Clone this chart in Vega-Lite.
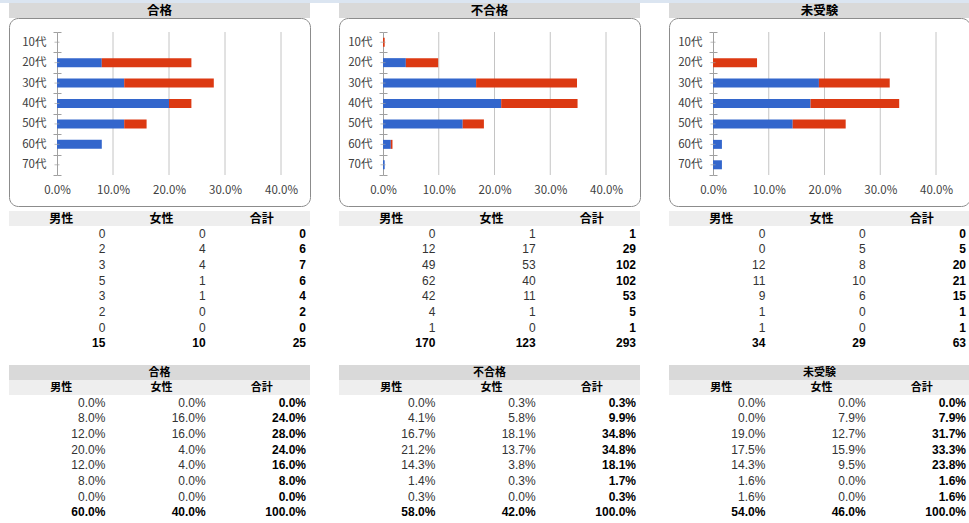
{
"$schema": "https://vega.github.io/schema/vega-lite/v6.json",
"padding": 0,
"background": "white",
"config": {"font": "Noto Sans CJK JP", "view": {"stroke": null}},
"datasets": {"t": [
{"g":"合格","a":"10代","s":"男性","n":0,"p":0},{"g":"合格","a":"10代","s":"女性","n":0,"p":0},{"g":"合格","a":"10代","s":"合計","n":0,"p":0},
{"g":"合格","a":"20代","s":"男性","n":2,"p":0.08},{"g":"合格","a":"20代","s":"女性","n":4,"p":0.16},{"g":"合格","a":"20代","s":"合計","n":6,"p":0.24},
{"g":"合格","a":"30代","s":"男性","n":3,"p":0.12},{"g":"合格","a":"30代","s":"女性","n":4,"p":0.16},{"g":"合格","a":"30代","s":"合計","n":7,"p":0.28},
{"g":"合格","a":"40代","s":"男性","n":5,"p":0.2},{"g":"合格","a":"40代","s":"女性","n":1,"p":0.04},{"g":"合格","a":"40代","s":"合計","n":6,"p":0.24},
{"g":"合格","a":"50代","s":"男性","n":3,"p":0.12},{"g":"合格","a":"50代","s":"女性","n":1,"p":0.04},{"g":"合格","a":"50代","s":"合計","n":4,"p":0.16},
{"g":"合格","a":"60代","s":"男性","n":2,"p":0.08},{"g":"合格","a":"60代","s":"女性","n":0,"p":0},{"g":"合格","a":"60代","s":"合計","n":2,"p":0.08},
{"g":"合格","a":"70代","s":"男性","n":0,"p":0},{"g":"合格","a":"70代","s":"女性","n":0,"p":0},{"g":"合格","a":"70代","s":"合計","n":0,"p":0},
{"g":"合格","a":"合計","s":"男性","n":15,"p":0.6},{"g":"合格","a":"合計","s":"女性","n":10,"p":0.4},{"g":"合格","a":"合計","s":"合計","n":25,"p":1},
{"g":"不合格","a":"10代","s":"男性","n":0,"p":0},{"g":"不合格","a":"10代","s":"女性","n":1,"p":0.003},{"g":"不合格","a":"10代","s":"合計","n":1,"p":0.003},
{"g":"不合格","a":"20代","s":"男性","n":12,"p":0.041},{"g":"不合格","a":"20代","s":"女性","n":17,"p":0.058},{"g":"不合格","a":"20代","s":"合計","n":29,"p":0.099},
{"g":"不合格","a":"30代","s":"男性","n":49,"p":0.167},{"g":"不合格","a":"30代","s":"女性","n":53,"p":0.181},{"g":"不合格","a":"30代","s":"合計","n":102,"p":0.348},
{"g":"不合格","a":"40代","s":"男性","n":62,"p":0.212},{"g":"不合格","a":"40代","s":"女性","n":40,"p":0.137},{"g":"不合格","a":"40代","s":"合計","n":102,"p":0.348},
{"g":"不合格","a":"50代","s":"男性","n":42,"p":0.143},{"g":"不合格","a":"50代","s":"女性","n":11,"p":0.038},{"g":"不合格","a":"50代","s":"合計","n":53,"p":0.181},
{"g":"不合格","a":"60代","s":"男性","n":4,"p":0.014},{"g":"不合格","a":"60代","s":"女性","n":1,"p":0.003},{"g":"不合格","a":"60代","s":"合計","n":5,"p":0.017},
{"g":"不合格","a":"70代","s":"男性","n":1,"p":0.003},{"g":"不合格","a":"70代","s":"女性","n":0,"p":0},{"g":"不合格","a":"70代","s":"合計","n":1,"p":0.003},
{"g":"不合格","a":"合計","s":"男性","n":170,"p":0.58},{"g":"不合格","a":"合計","s":"女性","n":123,"p":0.42},{"g":"不合格","a":"合計","s":"合計","n":293,"p":1},
{"g":"未受験","a":"10代","s":"男性","n":0,"p":0},{"g":"未受験","a":"10代","s":"女性","n":0,"p":0},{"g":"未受験","a":"10代","s":"合計","n":0,"p":0},
{"g":"未受験","a":"20代","s":"男性","n":0,"p":0},{"g":"未受験","a":"20代","s":"女性","n":5,"p":0.079},{"g":"未受験","a":"20代","s":"合計","n":5,"p":0.079},
{"g":"未受験","a":"30代","s":"男性","n":12,"p":0.19},{"g":"未受験","a":"30代","s":"女性","n":8,"p":0.127},{"g":"未受験","a":"30代","s":"合計","n":20,"p":0.317},
{"g":"未受験","a":"40代","s":"男性","n":11,"p":0.175},{"g":"未受験","a":"40代","s":"女性","n":10,"p":0.159},{"g":"未受験","a":"40代","s":"合計","n":21,"p":0.333},
{"g":"未受験","a":"50代","s":"男性","n":9,"p":0.143},{"g":"未受験","a":"50代","s":"女性","n":6,"p":0.095},{"g":"未受験","a":"50代","s":"合計","n":15,"p":0.238},
{"g":"未受験","a":"60代","s":"男性","n":1,"p":0.016},{"g":"未受験","a":"60代","s":"女性","n":0,"p":0},{"g":"未受験","a":"60代","s":"合計","n":1,"p":0.016},
{"g":"未受験","a":"70代","s":"男性","n":1,"p":0.016},{"g":"未受験","a":"70代","s":"女性","n":0,"p":0},{"g":"未受験","a":"70代","s":"合計","n":1,"p":0.016},
{"g":"未受験","a":"合計","s":"男性","n":34,"p":0.54},{"g":"未受験","a":"合計","s":"女性","n":29,"p":0.46},{"g":"未受験","a":"合計","s":"合計","n":63,"p":1}
]},
"columns": 6,
"spacing": 0,
"align": "each",
"bounds": "flush",
"concat": [
{"width": 9, "height": 3, "view": {"fill": "#dbe5f1", "stroke": null}, "data": {"values": []}, "mark": "rect", "encoding": {}},
{"width": 301, "height": 3, "view": {"fill": "#dbe5f1", "stroke": null}, "data": {"values": []}, "mark": "rect", "encoding": {}},
{"width": 29, "height": 3, "view": {"fill": "#dbe5f1", "stroke": null}, "data": {"values": []}, "mark": "rect", "encoding": {}},
{"width": 301, "height": 3, "view": {"fill": "#dbe5f1", "stroke": null}, "data": {"values": []}, "mark": "rect", "encoding": {}},
{"width": 29, "height": 3, "view": {"fill": "#dbe5f1", "stroke": null}, "data": {"values": []}, "mark": "rect", "encoding": {}},
{"width": 301, "height": 3, "view": {"fill": "#dbe5f1", "stroke": null}, "data": {"values": []}, "mark": "rect", "encoding": {}},

{"width": 1, "height": 1, "data": {"values": []}, "mark": "rect", "encoding": {}},
{"width": 301, "height": 15, "view": {"fill": "#d9d9d9", "stroke": null}, "data": {"name": "t"},
 "transform": [{"filter": "datum.g === '合格' && datum.a === '合計' && datum.s === '合計'"}],
 "mark": {"type": "text", "fontWeight": "bold", "fontSize": 12.5, "color": "#000", "baseline": "middle", "align": "center"},
 "encoding": {"text": {"field": "g"}}},
{"width": 1, "height": 1, "data": {"values": []}, "mark": "rect", "encoding": {}},
{"width": 301, "height": 15, "view": {"fill": "#d9d9d9", "stroke": null}, "data": {"name": "t"},
 "transform": [{"filter": "datum.g === '不合格' && datum.a === '合計' && datum.s === '合計'"}],
 "mark": {"type": "text", "fontWeight": "bold", "fontSize": 12.5, "color": "#000", "baseline": "middle", "align": "center"},
 "encoding": {"text": {"field": "g"}}},
{"width": 1, "height": 1, "data": {"values": []}, "mark": "rect", "encoding": {}},
{"width": 301, "height": 15, "view": {"fill": "#d9d9d9", "stroke": null}, "data": {"name": "t"},
 "transform": [{"filter": "datum.g === '未受験' && datum.a === '合計' && datum.s === '合計'"}],
 "mark": {"type": "text", "fontWeight": "bold", "fontSize": 12.5, "color": "#000", "baseline": "middle", "align": "center"},
 "encoding": {"text": {"field": "g"}}},

{"width": 1, "height": 1, "data": {"values": []}, "mark": "rect", "encoding": {}},
{"width": 301, "height": 188, "view": {"stroke": "#8c8c8c", "cornerRadius": 9, "fill": "white"},
 "layer": [
  {"data": {"values": [{"v": 0.1}, {"v": 0.2}, {"v": 0.3}, {"v": 0.4}]},
   "mark": {"type": "rule", "color": "#c4c4c4", "strokeWidth": 1},
   "encoding": {"x": {"field": "v", "type": "quantitative", "scale": {"domain": [0, 0.4], "range": [48, 272], "nice": false, "zero": false},
     "axis": {"orient": "bottom", "offset": -16, "values": [0, 0.1, 0.2, 0.3, 0.4], "format": ".1%", "grid": false, "domain": false, "ticks": false, "tickSize": 0, "labelPadding": 0, "labelBaseline": "middle", "labelFlush": false, "labelOverlap": false, "labelFontSize": 11.5, "labelColor": "#404040", "title": null}},
    "y": {"datum": 0, "type": "quantitative", "scale": {"domain": [0, 1], "range": [14, 157]}, "axis": null},
    "y2": {"datum": 1}}},
  {"data": {"name": "t"}, "transform": [{"filter": "datum.g === '合格' && datum.a !== '合計' && datum.s !== '合計'"}],
   "mark": {"type": "bar", "size": 9},
   "encoding": {
    "x": {"field": "p", "type": "quantitative", "stack": "zero", "scale": {"domain": [0, 0.4], "range": [48, 272], "nice": false, "zero": false},
     "axis": {"orient": "bottom", "offset": -16, "values": [0, 0.1, 0.2, 0.3, 0.4], "format": ".1%", "grid": false, "domain": false, "ticks": false, "tickSize": 0, "labelPadding": 0, "labelBaseline": "middle", "labelFlush": false, "labelOverlap": false, "labelFontSize": 11.5, "labelColor": "#404040", "title": null}},
    "y": {"field": "a", "type": "nominal", "scale": {"domain": ["10代","20代","30代","40代","50代","60代","70代"], "range": [14, 157], "paddingInner": 0, "paddingOuter": 0},
     "axis": {"orient": "left", "offset": -48, "title": null, "tickBand": "extent", "tickSize": 4, "tickColor": "#a0a0a0", "domainColor": "#a0a0a0", "labelPadding": 7, "labelFontSize": 11.5, "labelColor": "#404040", "grid": false}},
    "color": {"field": "s", "type": "nominal", "scale": {"domain": ["男性", "女性"], "range": ["#3366cc", "#dc3912"]}, "legend": null},
    "order": {"field": "s", "sort": "descending"}}},
  {"data": {"name": "t"}, "transform": [{"filter": "datum.g === '合格' && datum.s === '男性' && datum.a !== '合計'"}],
   "mark": {"type": "tick", "orient": "horizontal", "size": 5, "thickness": 1, "color": "#a0a0a0"},
   "encoding": {"x": {"datum": 0, "type": "quantitative",
     "axis": {"orient": "bottom", "offset": -16, "values": [0, 0.1, 0.2, 0.3, 0.4], "format": ".1%", "grid": false, "domain": false, "ticks": false, "tickSize": 0, "labelPadding": 0, "labelBaseline": "middle", "labelFlush": false, "labelOverlap": false, "labelFontSize": 11.5, "labelColor": "#404040", "title": null}},
    "y": {"field": "a", "type": "nominal", "scale": {"domain": ["10代","20代","30代","40代","50代","60代","70代"], "range": [14, 157], "paddingInner": 0, "paddingOuter": 0},
     "axis": {"orient": "left", "offset": -52, "title": null, "tickBand": "extent", "tickSize": 4, "tickColor": "#a0a0a0", "domain": false, "labels": false, "grid": false}}}}
 ],
 "resolve": {"scale": {"y": "independent"}}},
{"width": 1, "height": 1, "data": {"values": []}, "mark": "rect", "encoding": {}},
{"width": 301, "height": 188, "view": {"stroke": "#8c8c8c", "cornerRadius": 9, "fill": "white"},
 "layer": [
  {"data": {"values": [{"v": 0.1}, {"v": 0.2}, {"v": 0.3}, {"v": 0.4}]},
   "mark": {"type": "rule", "color": "#c4c4c4", "strokeWidth": 1},
   "encoding": {"x": {"field": "v", "type": "quantitative", "scale": {"domain": [0, 0.4], "range": [44, 267], "nice": false, "zero": false},
     "axis": {"orient": "bottom", "offset": -16, "values": [0, 0.1, 0.2, 0.3, 0.4], "format": ".1%", "grid": false, "domain": false, "ticks": false, "tickSize": 0, "labelPadding": 0, "labelBaseline": "middle", "labelFlush": false, "labelOverlap": false, "labelFontSize": 11.5, "labelColor": "#404040", "title": null}},
    "y": {"datum": 0, "type": "quantitative", "scale": {"domain": [0, 1], "range": [14, 157]}, "axis": null},
    "y2": {"datum": 1}}},
  {"data": {"name": "t"}, "transform": [{"filter": "datum.g === '不合格' && datum.a !== '合計' && datum.s !== '合計'"}],
   "mark": {"type": "bar", "size": 9},
   "encoding": {
    "x": {"field": "p", "type": "quantitative", "stack": "zero", "scale": {"domain": [0, 0.4], "range": [44, 267], "nice": false, "zero": false},
     "axis": {"orient": "bottom", "offset": -16, "values": [0, 0.1, 0.2, 0.3, 0.4], "format": ".1%", "grid": false, "domain": false, "ticks": false, "tickSize": 0, "labelPadding": 0, "labelBaseline": "middle", "labelFlush": false, "labelOverlap": false, "labelFontSize": 11.5, "labelColor": "#404040", "title": null}},
    "y": {"field": "a", "type": "nominal", "scale": {"domain": ["10代","20代","30代","40代","50代","60代","70代"], "range": [14, 157], "paddingInner": 0, "paddingOuter": 0},
     "axis": {"orient": "left", "offset": -44, "title": null, "tickBand": "extent", "tickSize": 4, "tickColor": "#a0a0a0", "domainColor": "#a0a0a0", "labelPadding": 7, "labelFontSize": 11.5, "labelColor": "#404040", "grid": false}},
    "color": {"field": "s", "type": "nominal", "scale": {"domain": ["男性", "女性"], "range": ["#3366cc", "#dc3912"]}, "legend": null},
    "order": {"field": "s", "sort": "descending"}}},
  {"data": {"name": "t"}, "transform": [{"filter": "datum.g === '不合格' && datum.s === '男性' && datum.a !== '合計'"}],
   "mark": {"type": "tick", "orient": "horizontal", "size": 5, "thickness": 1, "color": "#a0a0a0"},
   "encoding": {"x": {"datum": 0, "type": "quantitative",
     "axis": {"orient": "bottom", "offset": -16, "values": [0, 0.1, 0.2, 0.3, 0.4], "format": ".1%", "grid": false, "domain": false, "ticks": false, "tickSize": 0, "labelPadding": 0, "labelBaseline": "middle", "labelFlush": false, "labelOverlap": false, "labelFontSize": 11.5, "labelColor": "#404040", "title": null}},
    "y": {"field": "a", "type": "nominal", "scale": {"domain": ["10代","20代","30代","40代","50代","60代","70代"], "range": [14, 157], "paddingInner": 0, "paddingOuter": 0},
     "axis": {"orient": "left", "offset": -48, "title": null, "tickBand": "extent", "tickSize": 4, "tickColor": "#a0a0a0", "domain": false, "labels": false, "grid": false}}}}
 ],
 "resolve": {"scale": {"y": "independent"}}},
{"width": 1, "height": 1, "data": {"values": []}, "mark": "rect", "encoding": {}},
{"width": 301, "height": 188, "view": {"stroke": "#8c8c8c", "cornerRadius": 9, "fill": "white"},
 "layer": [
  {"data": {"values": [{"v": 0.1}, {"v": 0.2}, {"v": 0.3}, {"v": 0.4}]},
   "mark": {"type": "rule", "color": "#c4c4c4", "strokeWidth": 1},
   "encoding": {"x": {"field": "v", "type": "quantitative", "scale": {"domain": [0, 0.4], "range": [44, 267], "nice": false, "zero": false},
     "axis": {"orient": "bottom", "offset": -16, "values": [0, 0.1, 0.2, 0.3, 0.4], "format": ".1%", "grid": false, "domain": false, "ticks": false, "tickSize": 0, "labelPadding": 0, "labelBaseline": "middle", "labelFlush": false, "labelOverlap": false, "labelFontSize": 11.5, "labelColor": "#404040", "title": null}},
    "y": {"datum": 0, "type": "quantitative", "scale": {"domain": [0, 1], "range": [14, 157]}, "axis": null},
    "y2": {"datum": 1}}},
  {"data": {"name": "t"}, "transform": [{"filter": "datum.g === '未受験' && datum.a !== '合計' && datum.s !== '合計'"}],
   "mark": {"type": "bar", "size": 9},
   "encoding": {
    "x": {"field": "p", "type": "quantitative", "stack": "zero", "scale": {"domain": [0, 0.4], "range": [44, 267], "nice": false, "zero": false},
     "axis": {"orient": "bottom", "offset": -16, "values": [0, 0.1, 0.2, 0.3, 0.4], "format": ".1%", "grid": false, "domain": false, "ticks": false, "tickSize": 0, "labelPadding": 0, "labelBaseline": "middle", "labelFlush": false, "labelOverlap": false, "labelFontSize": 11.5, "labelColor": "#404040", "title": null}},
    "y": {"field": "a", "type": "nominal", "scale": {"domain": ["10代","20代","30代","40代","50代","60代","70代"], "range": [14, 157], "paddingInner": 0, "paddingOuter": 0},
     "axis": {"orient": "left", "offset": -44, "title": null, "tickBand": "extent", "tickSize": 4, "tickColor": "#a0a0a0", "domainColor": "#a0a0a0", "labelPadding": 7, "labelFontSize": 11.5, "labelColor": "#404040", "grid": false}},
    "color": {"field": "s", "type": "nominal", "scale": {"domain": ["男性", "女性"], "range": ["#3366cc", "#dc3912"]}, "legend": null},
    "order": {"field": "s", "sort": "descending"}}},
  {"data": {"name": "t"}, "transform": [{"filter": "datum.g === '未受験' && datum.s === '男性' && datum.a !== '合計'"}],
   "mark": {"type": "tick", "orient": "horizontal", "size": 5, "thickness": 1, "color": "#a0a0a0"},
   "encoding": {"x": {"datum": 0, "type": "quantitative",
     "axis": {"orient": "bottom", "offset": -16, "values": [0, 0.1, 0.2, 0.3, 0.4], "format": ".1%", "grid": false, "domain": false, "ticks": false, "tickSize": 0, "labelPadding": 0, "labelBaseline": "middle", "labelFlush": false, "labelOverlap": false, "labelFontSize": 11.5, "labelColor": "#404040", "title": null}},
    "y": {"field": "a", "type": "nominal", "scale": {"domain": ["10代","20代","30代","40代","50代","60代","70代"], "range": [14, 157], "paddingInner": 0, "paddingOuter": 0},
     "axis": {"orient": "left", "offset": -48, "title": null, "tickBand": "extent", "tickSize": 4, "tickColor": "#a0a0a0", "domain": false, "labels": false, "grid": false}}}}
 ],
 "resolve": {"scale": {"y": "independent"}}},

{"width": 1, "height": 5, "data": {"values": []}, "mark": "rect", "encoding": {}},
{"width": 1, "height": 5, "data": {"values": []}, "mark": "rect", "encoding": {}},
{"width": 1, "height": 5, "data": {"values": []}, "mark": "rect", "encoding": {}},
{"width": 1, "height": 5, "data": {"values": []}, "mark": "rect", "encoding": {}},
{"width": 1, "height": 5, "data": {"values": []}, "mark": "rect", "encoding": {}},
{"width": 1, "height": 5, "data": {"values": []}, "mark": "rect", "encoding": {}},

{"width": 1, "height": 1, "data": {"values": []}, "mark": "rect", "encoding": {}},
{"width": 301, "height": 15, "view": {"fill": "#eeeeee", "stroke": null}, "data": {"name": "t"},
 "transform": [{"filter": "datum.g === '合格' && datum.a === '合計'"}],
 "mark": {"type": "text", "fontWeight": "bold", "fontSize": 12, "color": "#000", "baseline": "middle", "dx": 2},
 "encoding": {"x": {"field": "s", "type": "nominal", "scale": {"type": "band", "domain": ["男性","女性","合計"], "paddingInner": 0, "paddingOuter": 0}, "axis": null}, "text": {"field": "s"}}},
{"width": 1, "height": 1, "data": {"values": []}, "mark": "rect", "encoding": {}},
{"width": 301, "height": 15, "view": {"fill": "#eeeeee", "stroke": null}, "data": {"name": "t"},
 "transform": [{"filter": "datum.g === '不合格' && datum.a === '合計'"}],
 "mark": {"type": "text", "fontWeight": "bold", "fontSize": 12, "color": "#000", "baseline": "middle", "dx": 2},
 "encoding": {"x": {"field": "s", "type": "nominal", "scale": {"type": "band", "domain": ["男性","女性","合計"], "paddingInner": 0, "paddingOuter": 0}, "axis": null}, "text": {"field": "s"}}},
{"width": 1, "height": 1, "data": {"values": []}, "mark": "rect", "encoding": {}},
{"width": 301, "height": 15, "view": {"fill": "#eeeeee", "stroke": null}, "data": {"name": "t"},
 "transform": [{"filter": "datum.g === '未受験' && datum.a === '合計'"}],
 "mark": {"type": "text", "fontWeight": "bold", "fontSize": 12, "color": "#000", "baseline": "middle", "dx": 2},
 "encoding": {"x": {"field": "s", "type": "nominal", "scale": {"type": "band", "domain": ["男性","女性","合計"], "paddingInner": 0, "paddingOuter": 0}, "axis": null}, "text": {"field": "s"}}},

{"width": 1, "height": 1, "data": {"values": []}, "mark": "rect", "encoding": {}},
{"width": 301, "height": 125, "data": {"name": "t"}, "transform": [{"filter": "datum.g === '合格'"}],
 "encoding": {"x": {"field": "s", "type": "nominal", "bandPosition": 1, "scale": {"type": "band", "domain": ["男性","女性","合計"], "paddingInner": 0, "paddingOuter": 0}, "axis": null},
  "y": {"field": "a", "type": "nominal", "scale": {"type": "band", "domain": ["10代","20代","30代","40代","50代","60代","70代","合計"], "paddingInner": 0, "paddingOuter": 0}, "axis": null},
  "text": {"field": "n", "type": "quantitative"}},
 "layer": [
  {"transform": [{"filter": "datum.s !== '合計' && datum.a !== '合計'"}], "mark": {"type": "text", "font": "Liberation Sans", "fontSize": 12, "align": "right", "baseline": "middle", "dx": -4, "color": "#333"}},
  {"transform": [{"filter": "datum.s === '合計' || datum.a === '合計'"}], "mark": {"type": "text", "font": "Liberation Sans", "fontSize": 12, "fontWeight": "bold", "align": "right", "baseline": "middle", "dx": -4, "color": "#000"}}
 ]},
{"width": 1, "height": 1, "data": {"values": []}, "mark": "rect", "encoding": {}},
{"width": 301, "height": 125, "data": {"name": "t"}, "transform": [{"filter": "datum.g === '不合格'"}],
 "encoding": {"x": {"field": "s", "type": "nominal", "bandPosition": 1, "scale": {"type": "band", "domain": ["男性","女性","合計"], "paddingInner": 0, "paddingOuter": 0}, "axis": null},
  "y": {"field": "a", "type": "nominal", "scale": {"type": "band", "domain": ["10代","20代","30代","40代","50代","60代","70代","合計"], "paddingInner": 0, "paddingOuter": 0}, "axis": null},
  "text": {"field": "n", "type": "quantitative"}},
 "layer": [
  {"transform": [{"filter": "datum.s !== '合計' && datum.a !== '合計'"}], "mark": {"type": "text", "font": "Liberation Sans", "fontSize": 12, "align": "right", "baseline": "middle", "dx": -4, "color": "#333"}},
  {"transform": [{"filter": "datum.s === '合計' || datum.a === '合計'"}], "mark": {"type": "text", "font": "Liberation Sans", "fontSize": 12, "fontWeight": "bold", "align": "right", "baseline": "middle", "dx": -4, "color": "#000"}}
 ]},
{"width": 1, "height": 1, "data": {"values": []}, "mark": "rect", "encoding": {}},
{"width": 301, "height": 125, "data": {"name": "t"}, "transform": [{"filter": "datum.g === '未受験'"}],
 "encoding": {"x": {"field": "s", "type": "nominal", "bandPosition": 1, "scale": {"type": "band", "domain": ["男性","女性","合計"], "paddingInner": 0, "paddingOuter": 0}, "axis": null},
  "y": {"field": "a", "type": "nominal", "scale": {"type": "band", "domain": ["10代","20代","30代","40代","50代","60代","70代","合計"], "paddingInner": 0, "paddingOuter": 0}, "axis": null},
  "text": {"field": "n", "type": "quantitative"}},
 "layer": [
  {"transform": [{"filter": "datum.s !== '合計' && datum.a !== '合計'"}], "mark": {"type": "text", "font": "Liberation Sans", "fontSize": 12, "align": "right", "baseline": "middle", "dx": -4, "color": "#333"}},
  {"transform": [{"filter": "datum.s === '合計' || datum.a === '合計'"}], "mark": {"type": "text", "font": "Liberation Sans", "fontSize": 12, "fontWeight": "bold", "align": "right", "baseline": "middle", "dx": -4, "color": "#000"}}
 ]},

{"width": 1, "height": 14, "data": {"values": []}, "mark": "rect", "encoding": {}},
{"width": 1, "height": 14, "data": {"values": []}, "mark": "rect", "encoding": {}},
{"width": 1, "height": 14, "data": {"values": []}, "mark": "rect", "encoding": {}},
{"width": 1, "height": 14, "data": {"values": []}, "mark": "rect", "encoding": {}},
{"width": 1, "height": 14, "data": {"values": []}, "mark": "rect", "encoding": {}},
{"width": 1, "height": 14, "data": {"values": []}, "mark": "rect", "encoding": {}},

{"width": 1, "height": 1, "data": {"values": []}, "mark": "rect", "encoding": {}},
{"width": 301, "height": 15, "view": {"fill": "#d9d9d9", "stroke": null}, "data": {"name": "t"},
 "transform": [{"filter": "datum.g === '合格' && datum.a === '合計' && datum.s === '合計'"}],
 "mark": {"type": "text", "fontWeight": "bold", "fontSize": 11, "color": "#000", "baseline": "middle", "align": "center"},
 "encoding": {"text": {"field": "g"}}},
{"width": 1, "height": 1, "data": {"values": []}, "mark": "rect", "encoding": {}},
{"width": 301, "height": 15, "view": {"fill": "#d9d9d9", "stroke": null}, "data": {"name": "t"},
 "transform": [{"filter": "datum.g === '不合格' && datum.a === '合計' && datum.s === '合計'"}],
 "mark": {"type": "text", "fontWeight": "bold", "fontSize": 11, "color": "#000", "baseline": "middle", "align": "center"},
 "encoding": {"text": {"field": "g"}}},
{"width": 1, "height": 1, "data": {"values": []}, "mark": "rect", "encoding": {}},
{"width": 301, "height": 15, "view": {"fill": "#d9d9d9", "stroke": null}, "data": {"name": "t"},
 "transform": [{"filter": "datum.g === '未受験' && datum.a === '合計' && datum.s === '合計'"}],
 "mark": {"type": "text", "fontWeight": "bold", "fontSize": 11, "color": "#000", "baseline": "middle", "align": "center"},
 "encoding": {"text": {"field": "g"}}},

{"width": 1, "height": 1, "data": {"values": []}, "mark": "rect", "encoding": {}},
{"width": 301, "height": 15, "view": {"fill": "#eeeeee", "stroke": null}, "data": {"name": "t"},
 "transform": [{"filter": "datum.g === '合格' && datum.a === '合計'"}],
 "mark": {"type": "text", "fontWeight": "bold", "fontSize": 11, "color": "#000", "baseline": "middle", "dx": 2, "dy": 0.5},
 "encoding": {"x": {"field": "s", "type": "nominal", "scale": {"type": "band", "domain": ["男性","女性","合計"], "paddingInner": 0, "paddingOuter": 0}, "axis": null}, "text": {"field": "s"}}},
{"width": 1, "height": 1, "data": {"values": []}, "mark": "rect", "encoding": {}},
{"width": 301, "height": 15, "view": {"fill": "#eeeeee", "stroke": null}, "data": {"name": "t"},
 "transform": [{"filter": "datum.g === '不合格' && datum.a === '合計'"}],
 "mark": {"type": "text", "fontWeight": "bold", "fontSize": 11, "color": "#000", "baseline": "middle", "dx": 2, "dy": 0.5},
 "encoding": {"x": {"field": "s", "type": "nominal", "scale": {"type": "band", "domain": ["男性","女性","合計"], "paddingInner": 0, "paddingOuter": 0}, "axis": null}, "text": {"field": "s"}}},
{"width": 1, "height": 1, "data": {"values": []}, "mark": "rect", "encoding": {}},
{"width": 301, "height": 15, "view": {"fill": "#eeeeee", "stroke": null}, "data": {"name": "t"},
 "transform": [{"filter": "datum.g === '未受験' && datum.a === '合計'"}],
 "mark": {"type": "text", "fontWeight": "bold", "fontSize": 11, "color": "#000", "baseline": "middle", "dx": 2, "dy": 0.5},
 "encoding": {"x": {"field": "s", "type": "nominal", "scale": {"type": "band", "domain": ["男性","女性","合計"], "paddingInner": 0, "paddingOuter": 0}, "axis": null}, "text": {"field": "s"}}},

{"width": 1, "height": 1, "data": {"values": []}, "mark": "rect", "encoding": {}},
{"width": 301, "height": 125, "data": {"name": "t"}, "transform": [{"filter": "datum.g === '合格'"}],
 "encoding": {"x": {"field": "s", "type": "nominal", "bandPosition": 1, "scale": {"type": "band", "domain": ["男性","女性","合計"], "paddingInner": 0, "paddingOuter": 0}, "axis": null},
  "y": {"field": "a", "type": "nominal", "scale": {"type": "band", "domain": ["10代","20代","30代","40代","50代","60代","70代","合計"], "paddingInner": 0, "paddingOuter": 0}, "axis": null},
  "text": {"field": "p", "type": "quantitative", "format": ".1%"}},
 "layer": [
  {"transform": [{"filter": "datum.s !== '合計' && datum.a !== '合計'"}], "mark": {"type": "text", "font": "Liberation Sans", "fontSize": 12, "align": "right", "baseline": "middle", "dx": -4, "color": "#333"}},
  {"transform": [{"filter": "datum.s === '合計' || datum.a === '合計'"}], "mark": {"type": "text", "font": "Liberation Sans", "fontSize": 12, "fontWeight": "bold", "align": "right", "baseline": "middle", "dx": -4, "color": "#000"}}
 ]},
{"width": 1, "height": 1, "data": {"values": []}, "mark": "rect", "encoding": {}},
{"width": 301, "height": 125, "data": {"name": "t"}, "transform": [{"filter": "datum.g === '不合格'"}],
 "encoding": {"x": {"field": "s", "type": "nominal", "bandPosition": 1, "scale": {"type": "band", "domain": ["男性","女性","合計"], "paddingInner": 0, "paddingOuter": 0}, "axis": null},
  "y": {"field": "a", "type": "nominal", "scale": {"type": "band", "domain": ["10代","20代","30代","40代","50代","60代","70代","合計"], "paddingInner": 0, "paddingOuter": 0}, "axis": null},
  "text": {"field": "p", "type": "quantitative", "format": ".1%"}},
 "layer": [
  {"transform": [{"filter": "datum.s !== '合計' && datum.a !== '合計'"}], "mark": {"type": "text", "font": "Liberation Sans", "fontSize": 12, "align": "right", "baseline": "middle", "dx": -4, "color": "#333"}},
  {"transform": [{"filter": "datum.s === '合計' || datum.a === '合計'"}], "mark": {"type": "text", "font": "Liberation Sans", "fontSize": 12, "fontWeight": "bold", "align": "right", "baseline": "middle", "dx": -4, "color": "#000"}}
 ]},
{"width": 1, "height": 1, "data": {"values": []}, "mark": "rect", "encoding": {}},
{"width": 301, "height": 125, "data": {"name": "t"}, "transform": [{"filter": "datum.g === '未受験'"}],
 "encoding": {"x": {"field": "s", "type": "nominal", "bandPosition": 1, "scale": {"type": "band", "domain": ["男性","女性","合計"], "paddingInner": 0, "paddingOuter": 0}, "axis": null},
  "y": {"field": "a", "type": "nominal", "scale": {"type": "band", "domain": ["10代","20代","30代","40代","50代","60代","70代","合計"], "paddingInner": 0, "paddingOuter": 0}, "axis": null},
  "text": {"field": "p", "type": "quantitative", "format": ".1%"}},
 "layer": [
  {"transform": [{"filter": "datum.s !== '合計' && datum.a !== '合計'"}], "mark": {"type": "text", "font": "Liberation Sans", "fontSize": 12, "align": "right", "baseline": "middle", "dx": -4, "color": "#333"}},
  {"transform": [{"filter": "datum.s === '合計' || datum.a === '合計'"}], "mark": {"type": "text", "font": "Liberation Sans", "fontSize": 12, "fontWeight": "bold", "align": "right", "baseline": "middle", "dx": -4, "color": "#000"}}
 ]}
]
}
